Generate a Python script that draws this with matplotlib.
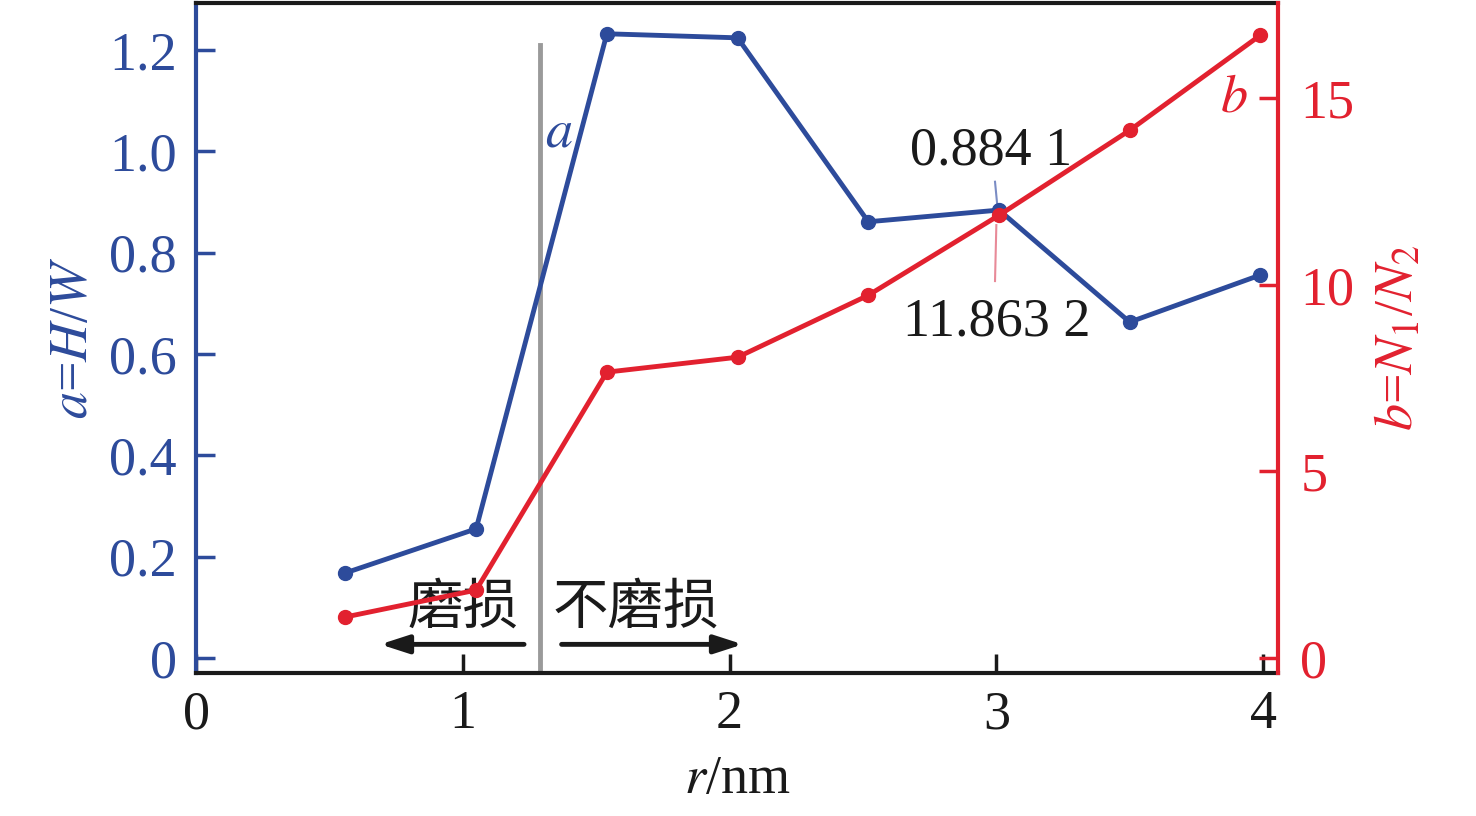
import matplotlib
matplotlib.use("Agg")
import matplotlib.pyplot as plt

plt.rcParams['font.family'] = ['Liberation Serif', 'Noto Sans CJK SC', 'DejaVu Sans']
plt.rcParams['mathtext.fontset'] = 'stix'

# data
r = [0.56, 1.05, 1.54, 2.03, 2.52, 3.01, 3.50, 3.99]
a_vals = [0.168, 0.255, 1.232, 1.224, 0.861, 0.8841, 0.663, 0.756]
b_vals = [1.10, 1.82, 7.66, 8.06, 9.72, 11.8632, 14.14, 16.69]
x_ticks = [0, 1, 2, 3, 4]
a_ticks = [0, 0.2, 0.4, 0.6, 0.8, 1.0, 1.2]
a_ticklabels = ['0', '0.2', '0.4', '0.6', '0.8', '1.0', '1.2']
b_ticks = [0, 5, 10, 15]
boundary_r = 1.29

BLUE = '#2D4B9B'
RED = '#E2212F'
FS = 39

fig = plt.figure(figsize=(14.76, 8.16), dpi=100)
ax = fig.add_axes([0.1328, 0.1752, 0.7331, 0.8211])
ax2 = ax.twinx()

ax.set_xlim(0, 4.056)
ax.set_ylim(-0.0296, 1.2927)
ax2.set_ylim(-0.402, 17.55)

ax.axvline(boundary_r, ymin=0, ymax=(673 - 45) / 670, color='#9a9a9a', lw=3.5, zorder=1)

ax.plot(r, a_vals, color=BLUE, lw=3.5, marker='o', ms=10, zorder=3)
ax2.plot(r, b_vals, color=RED, lw=3.5, marker='o', ms=10, zorder=3)

# spines
for s in ['top', 'bottom']:
    ax.spines[s].set_color('#1a1a1a')
    ax.spines[s].set_linewidth(3)
    ax2.spines[s].set_visible(False)
ax.spines['left'].set_color(BLUE)
ax.spines['left'].set_linewidth(3)
ax.spines['right'].set_visible(False)
ax2.spines['left'].set_visible(False)
ax2.spines['right'].set_color(RED)
ax2.spines['right'].set_linewidth(3)

ax.set_xticks(x_ticks)
ax.set_xticklabels([str(t) for t in x_ticks], fontsize=FS, color='#1a1a1a')
ax.tick_params(axis='x', direction='in', length=14, width=2.5, color='#1a1a1a', pad=12)
ax.set_yticks(a_ticks)
ax.set_yticklabels(a_ticklabels, fontsize=FS, color=BLUE)
ax.tick_params(axis='y', direction='in', length=14, width=2.5, color=BLUE, pad=14)
ax2.set_yticks(b_ticks)
ax2.set_yticklabels([str(t) for t in b_ticks], fontsize=FS, color=RED)
ax2.tick_params(axis='y', direction='in', length=14, width=2.5, color=RED, pad=16)

ax.set_xlabel(r'$r$/nm', fontsize=FS, color='#1a1a1a', labelpad=10)
ax.set_ylabel(r'$a$=$H$/$W$', fontsize=FS, color=BLUE, labelpad=7)
ax2.set_ylabel(r'$b$=$N_1$/$N_2$', fontsize=FS, color=RED, labelpad=14)

# curve labels
ax.text(1.36, 1.035, r'$a$', fontsize=FS, color=BLUE, ha='center', va='center')
ax2.text(3.89, 15.0, r'$b$', fontsize=FS, color=RED, ha='center', va='center')

# value annotations
ax.text(2.98, 1.0, '0.884 1', fontsize=FS, color='#1a1a1a', ha='center', va='center')
ax.plot([2.995, 3.005], [0.94, 0.885], color='#7a8cc4', lw=1.5, zorder=2)
ax2.text(3.0, 9.0, '11.863 2', fontsize=FS, color='#1a1a1a', ha='center', va='center')
ax2.plot([3.0, 2.995], [11.6, 10.1], color='#e88a98', lw=1.5, zorder=2)

# wear regions
ax.text(1.0, 0.1, '磨损', fontsize=40, color='#1a1a1a', ha='center', va='center',
        family=['Noto Sans CJK SC'])
ax.text(1.65, 0.1, '不磨损', fontsize=40, color='#1a1a1a', ha='center', va='center',
        family=['Noto Sans CJK SC'])
ax.annotate('', xy=(0.68, 0.027), xytext=(1.24, 0.027),
            arrowprops=dict(arrowstyle='-|>,head_length=1.7,head_width=0.55', color='#1a1a1a', lw=3.5))
ax.annotate('', xy=(2.06, 0.027), xytext=(1.36, 0.027),
            arrowprops=dict(arrowstyle='-|>,head_length=1.7,head_width=0.55', color='#1a1a1a', lw=3.5))

fig.savefig('out.png', dpi=100)
